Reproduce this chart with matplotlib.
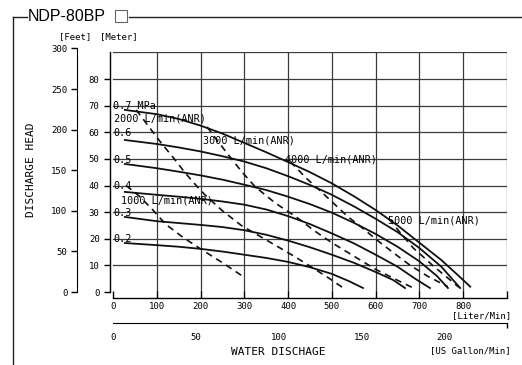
import matplotlib
matplotlib.use("Agg")
import matplotlib.pyplot as plt
from matplotlib.lines import Line2D
from matplotlib.patches import Rectangle

W, H = 522, 365
MONO = "DejaVu Sans Mono"

# pump curves: flow [L/min] vs head [m] at each air pressure
pressures = ["0.2", "0.3", "0.4", "0.5", "0.6", "0.7"]
flow_02 = [27, 100, 150, 200, 250, 300, 350, 400, 450, 500, 540, 571]
head_02 = [18.4, 17.6, 17.0, 16.2, 15.2, 14.0, 12.8, 11.3, 9.3, 6.8, 4.0, 1.5]
flow_03 = [27, 100, 200, 250, 300, 350, 400, 450, 500, 550, 600, 640, 667]
head_03 = [28.2, 26.6, 25.2, 24.4, 23.2, 21.5, 19.3, 16.8, 14.0, 11.0, 7.5, 4.5, 1.5]
flow_04 = [27, 100, 150, 200, 250, 300, 350, 400, 450, 500, 550, 600, 650, 690, 724]
head_04 = [37.6, 36.5, 35.8, 35.0, 34.0, 32.8, 31.0, 28.5, 25.5, 22.0, 18.3, 14.0, 9.5, 5.0, 1.5]
flow_05 = [27, 100, 150, 200, 250, 300, 350, 400, 450, 500, 550, 600, 650, 700, 740, 765]
head_05 = [48.1, 46.5, 45.2, 43.8, 42.2, 40.3, 38.3, 35.8, 33.0, 29.8, 26.0, 21.8, 17.0, 11.5, 6.0, 1.5]
flow_06 = [27, 100, 150, 200, 250, 300, 350, 400, 450, 500, 550, 600, 650, 700, 750, 793]
head_06 = [57.1, 55.6, 54.3, 52.8, 51.0, 49.0, 46.5, 43.5, 40.2, 36.5, 32.2, 27.5, 22.5, 16.5, 9.5, 1.5]
flow_07 = [27, 100, 150, 200, 250, 300, 350, 400, 450, 500, 550, 600, 650, 700, 750, 790, 816]
head_07 = [68.4, 66.8, 65.0, 62.5, 59.5, 56.0, 52.5, 48.8, 45.0, 40.8, 36.0, 30.8, 25.0, 18.5, 12.0, 6.0, 2.0]

# air consumption lines [L/min ANR]
air_1000_x = [30, 60, 90, 120, 160, 200, 250, 302]
air_1000_y = [40.0, 36.0, 31.0, 25.5, 20.5, 16.2, 11.0, 5.3]
air_2000_x = [53, 80, 110, 140, 165, 190, 210, 250, 293, 340, 382, 420, 457, 495, 526]
air_2000_y = [68.4, 62.5, 56.0, 50.0, 44.7, 40.0, 36.5, 30.5, 25.0, 20.5, 16.5, 12.8, 9.0, 5.0, 1.5]
air_3000_x = [215, 240, 267, 295, 325, 370, 420, 460, 500, 550, 600, 645, 686]
air_3000_y = [62.0, 56.5, 50.8, 45.0, 39.5, 33.5, 28.0, 23.0, 18.5, 13.5, 8.5, 4.8, 1.5]
air_4000_x = [405, 440, 480, 535, 570, 603, 640, 679, 720, 765]
air_4000_y = [49.0, 43.0, 37.0, 28.5, 24.0, 19.5, 14.8, 10.0, 5.8, 2.0]
air_5000_x = [630, 660, 686, 710, 730, 763, 790]
air_5000_y = [27.5, 21.5, 16.5, 13.0, 10.0, 5.5, 1.8]

meter_ticks = [0, 10, 20, 30, 40, 50, 60, 70, 80]
feet_ticks = [0, 50, 100, 150, 200, 250, 300]
liter_ticks = [0, 100, 200, 300, 400, 500, 600, 700, 800]
gallon_ticks = [0, 50, 100, 150, 200]


def rect(l, t, r, b):
    return [l / W, 1 - b / H, (r - l) / W, (b - t) / H]


def fx(x):
    return x / W


def fy(y):
    return 1 - y / H


fig = plt.figure(figsize=(W / 100, H / 100), dpi=100)

# main chart
ax = fig.add_axes(rect(110, 52.4, 507, 292))
ax.set_xlim(-6.85, 900)
ax.set_ylim(0, 90)
for s in ["top", "right"]:
    ax.spines[s].set_visible(False)
ax.spines["left"].set_linewidth(1.0)
ax.spines["bottom"].set_position(("outward", 4))
ax.spines["bottom"].set_bounds(0, 900)
ax.spines["bottom"].set_linewidth(1.0)
ax.set_xticks(liter_ticks + [900])
ax.set_xticklabels([str(v) for v in liter_ticks] + [""], family=MONO, fontsize=6.5)
ax.tick_params(axis="x", direction="in", length=5, width=1.0, pad=3)
ax.set_yticks(meter_ticks)
ax.set_yticklabels([str(v) for v in meter_ticks], family=MONO, fontsize=6.5)
ax.tick_params(axis="y", direction="out", length=4.5, width=1.0, pad=3)

for v in range(10, 100, 10):
    ax.plot([0, 900], [v, v], color="#3c3c3c", lw=0.9, zorder=1)
for v in range(100, 1000, 100):
    ax.plot([v, v], [0, 90], color="#3c3c3c", lw=0.9, zorder=1)

for fl, hd in [(flow_02, head_02), (flow_03, head_03), (flow_04, head_04),
               (flow_05, head_05), (flow_06, head_06), (flow_07, head_07)]:
    ax.plot(fl, hd, color="#111111", lw=1.3, zorder=3)

for fl, hd in [(air_1000_x, air_1000_y), (air_2000_x, air_2000_y),
               (air_3000_x, air_3000_y), (air_4000_x, air_4000_y),
               (air_5000_x, air_5000_y)]:
    ax.plot(fl, hd, color="#111111", lw=1.2, ls=(0, (4, 3)), zorder=3)

# pressure labels
for p in pressures:
    txt = p + " MPa" if p == "0.7" else p
    ax.text(1, float(p) * 100 - 1.4, txt, family=MONO, fontsize=7.3,
            ha="left", va="baseline", zorder=4)

ax.text(2, 64.2, "2000 L/min(ANR)", family=MONO, fontsize=7.3, va="baseline")
ax.text(206, 55.6, "3000 L/min(ANR)", family=MONO, fontsize=7.3, va="baseline")
ax.text(394, 48.8, "4000 L/min(ANR)", family=MONO, fontsize=7.3, va="baseline")
ax.text(629, 25.9, "5000 L/min(ANR)", family=MONO, fontsize=7.3, va="baseline")
ax.text(18, 33.1, "1000 L/min(ANR)", family=MONO, fontsize=7.3, va="baseline")

# feet axis
axf = fig.add_axes(rect(77, 48.5, 78, 292))
axf.set_ylim(0, 300)
axf.set_xticks([])
for s in ["top", "right", "bottom"]:
    axf.spines[s].set_visible(False)
axf.patch.set_visible(False)
axf.set_yticks(feet_ticks)
axf.set_yticklabels([str(v) for v in feet_ticks], family=MONO, fontsize=6.5)
axf.tick_params(axis="y", direction="out", length=4, width=1.0, pad=3)

# US gallon axis
axg = fig.add_axes(rect(113, 318, 507, 323))
axg.set_xlim(0, 900 / 3.78541)
axg.set_yticks([])
for s in ["top", "right", "left"]:
    axg.spines[s].set_visible(False)
axg.patch.set_visible(False)
axg.set_xticks(gallon_ticks)
axg.set_xticklabels([str(v) for v in gallon_ticks], family=MONO, fontsize=6.5)
axg.tick_params(axis="x", length=0, pad=7)
axg.set_xticks([0, 900 / 3.78541], minor=True)
axg.tick_params(axis="x", which="minor", direction="out", length=3.5, width=1.0)

# axis titles and units
fig.text(fx(75), fy(37), "[Feet]", family=MONO, fontsize=6.5, ha="center", va="center")
fig.text(fx(119), fy(37), "[Meter]", family=MONO, fontsize=6.5, ha="center", va="center")
fig.text(fx(31), fy(170), "DISCHARGE HEAD", family=MONO, fontsize=8,
         rotation=90, ha="center", va="center")
fig.text(fx(278), fy(352), "WATER DISCHAGE", family=MONO, fontsize=8,
         ha="center", va="center")
fig.text(fx(511), fy(316), "[Liter/Min]", family=MONO, fontsize=6.5, ha="right", va="center")
fig.text(fx(511), fy(351), "[US Gallon/Min]", family=MONO, fontsize=6.5, ha="right", va="center")

# frame with title
fig.add_artist(Line2D([fx(13), fx(13)], [fy(17), fy(366)], color="#222222", lw=1.0))
fig.add_artist(Line2D([fx(13), fx(27)], [fy(17), fy(17)], color="#222222", lw=1.0))
fig.add_artist(Line2D([fx(129), fx(522)], [fy(17), fy(17)], color="#222222", lw=1.0))
fig.text(fx(28), fy(16.5), "NDP-80BP", family="Liberation Sans", fontsize=11.5,
         ha="left", va="center")
fig.add_artist(Rectangle((fx(115), fy(22)), 12 / W, 12 / H, fill=False,
                         edgecolor="#666666", lw=0.8, transform=fig.transFigure))

fig.savefig("out.png", dpi=100)
